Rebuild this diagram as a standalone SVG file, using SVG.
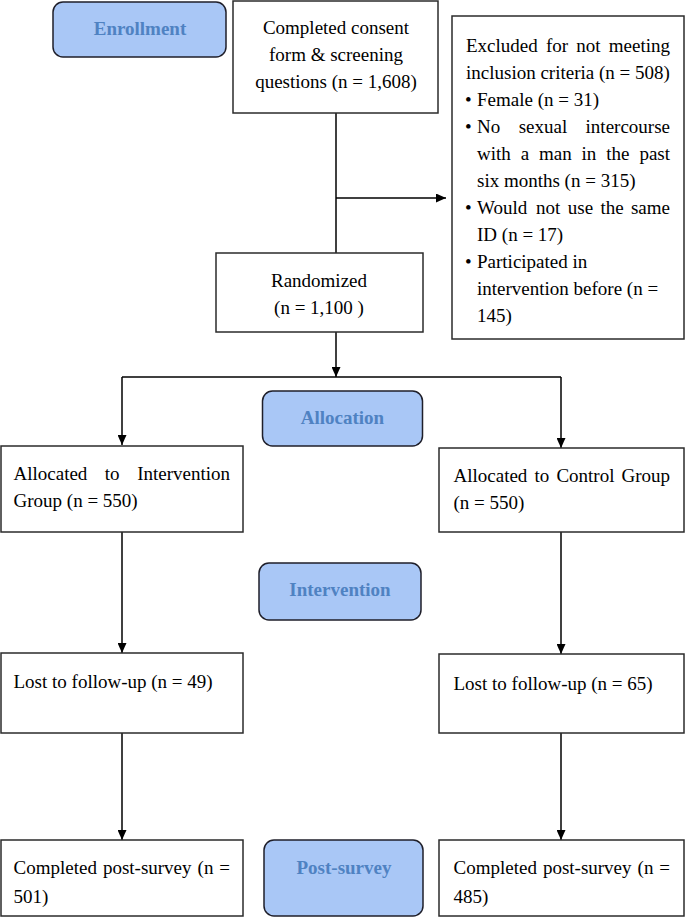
<svg xmlns="http://www.w3.org/2000/svg" width="685" height="917" viewBox="0 0 685 917">
<style>
.box{fill:#fff;stroke:#2b2b2b;stroke-width:1.5}
.lbl{fill:#a9c7f6;stroke:#1f1f2a;stroke-width:1.5}
.t{font-family:"Liberation Serif","Times New Roman",serif;font-size:19px;fill:#000}
.lt{font-family:"Liberation Serif","Times New Roman",serif;font-size:19px;font-weight:bold;fill:#4f82c2;text-anchor:middle}
.c{text-anchor:middle}
.ln{fill:none;stroke:#000;stroke-width:1.5}
</style>
<defs>
<marker id="ah" markerWidth="10" markerHeight="9" refX="10" refY="4.5" orient="auto" markerUnits="userSpaceOnUse">
<path d="M0,0 L10,4.5 L0,9 Z" fill="#000"/>
</marker>
</defs>
<g id="connectors">
<path class="ln" d="M336,113 V253"/>
<path class="ln" d="M336,198 H446" marker-end="url(#ah)"/>
<path class="ln" d="M336,332 V377" marker-end="url(#ah)"/>
<path class="ln" d="M122,377 H561"/>
<path class="ln" d="M122,377 V445" marker-end="url(#ah)"/>
<path class="ln" d="M561,377 V448" marker-end="url(#ah)"/>
<path class="ln" d="M122,532 V653" marker-end="url(#ah)"/>
<path class="ln" d="M561,532 V654" marker-end="url(#ah)"/>
<path class="ln" d="M122,733 V840" marker-end="url(#ah)"/>
<path class="ln" d="M561,733 V840" marker-end="url(#ah)"/>
</g>
<g id="enrollment">
<rect class="lbl" x="53" y="2" width="173" height="55" rx="10"/>
<text class="lt" x="140" y="35">Enrollment</text>
</g>
<g id="consent">
<rect class="box" x="233" y="1" width="205" height="112"/>
<text class="t c" x="336" y="34">Completed consent</text>
<text class="t c" x="336" y="61">form &amp; screening</text>
<text class="t c" x="336" y="88">questions (n = 1,608)</text>
</g>
<g id="excluded">
<rect class="box" x="452" y="16" width="232" height="323"/>
<text class="t" y="52"><tspan x="466">Excluded</tspan><tspan x="546">for</tspan><tspan x="576.3">not</tspan><tspan x="670" text-anchor="end">meeting</tspan></text>
<text class="t" x="466" y="79">inclusion criteria (n = 508)</text>
<text class="t" y="106"><tspan x="465">•</tspan><tspan x="477">Female (n = 31)</tspan></text>
<text class="t" y="133"><tspan x="465">•</tspan><tspan x="477">No</tspan><tspan x="518.7">sexual</tspan><tspan x="670" text-anchor="end">intercourse</tspan></text>
<text class="t" y="160"><tspan x="477">with</tspan><tspan x="520.7">a</tspan><tspan x="539">man</tspan><tspan x="581.6">in</tspan><tspan x="606.3">the</tspan><tspan x="670" text-anchor="end">past</tspan></text>
<text class="t" x="477" y="187">six months (n = 315)</text>
<text class="t" y="214"><tspan x="465">•</tspan><tspan x="477">Would</tspan><tspan x="536.1">not</tspan><tspan x="567.8">use</tspan><tspan x="600.5">the</tspan><tspan x="670" text-anchor="end">same</tspan></text>
<text class="t" x="477" y="241">ID (n = 17)</text>
<text class="t" y="268"><tspan x="465">•</tspan><tspan x="477">Participated in</tspan></text>
<text class="t" x="477" y="295">intervention before (n =</text>
<text class="t" x="477" y="322">145)</text>
</g>
<g id="randomized">
<rect class="box" x="216" y="253" width="207" height="79"/>
<text class="t c" x="319" y="287">Randomized</text>
<text class="t c" x="319" y="314">(n = 1,100 )</text>
</g>
<g id="allocation">
<rect class="lbl" x="262.5" y="391" width="160" height="55" rx="10"/>
<text class="lt" x="342.5" y="424">Allocation</text>
</g>
<g id="alloc-intervention">
<rect class="box" x="1" y="446" width="242" height="86"/>
<text class="t" y="480"><tspan x="13.5">Allocated</tspan><tspan x="104.8">to</tspan><tspan x="230" text-anchor="end">Intervention</tspan></text>
<text class="t" x="13.5" y="507">Group (n = 550)</text>
</g>
<g id="alloc-control">
<rect class="box" x="439" y="448" width="245" height="84"/>
<text class="t" y="482"><tspan x="453.5">Allocated</tspan><tspan x="534.5">to</tspan><tspan x="556.4">Control</tspan><tspan x="670" text-anchor="end">Group</tspan></text>
<text class="t" x="453.5" y="509">(n = 550)</text>
</g>
<g id="intervention">
<rect class="lbl" x="259" y="563" width="162" height="57" rx="10"/>
<text class="lt" x="340" y="596">Intervention</text>
</g>
<g id="lost-intervention">
<rect class="box" x="1" y="653" width="242" height="80"/>
<text class="t" x="13.5" y="688">Lost to follow-up (n = 49)</text>
</g>
<g id="lost-control">
<rect class="box" x="439" y="654" width="245" height="79"/>
<text class="t" x="453.5" y="690">Lost to follow-up (n = 65)</text>
</g>
<g id="completed-intervention">
<rect class="box" x="1" y="840" width="242" height="76"/>
<text class="t" y="874"><tspan x="13.5">Completed</tspan><tspan x="102.9">post-survey</tspan><tspan x="197.6">(n</tspan><tspan x="230" text-anchor="end">=</tspan></text>
<text class="t" x="13.5" y="903">501)</text>
</g>
<g id="post-survey">
<rect class="lbl" x="264" y="840" width="159" height="76" rx="10"/>
<text class="lt" x="344" y="874">Post-survey</text>
</g>
<g id="completed-control">
<rect class="box" x="439" y="840" width="245" height="76"/>
<text class="t" y="874"><tspan x="453.5">Completed</tspan><tspan x="542.9">post-survey</tspan><tspan x="637.6">(n</tspan><tspan x="670" text-anchor="end">=</tspan></text>
<text class="t" x="453.5" y="903">485)</text>
</g>
</svg>
